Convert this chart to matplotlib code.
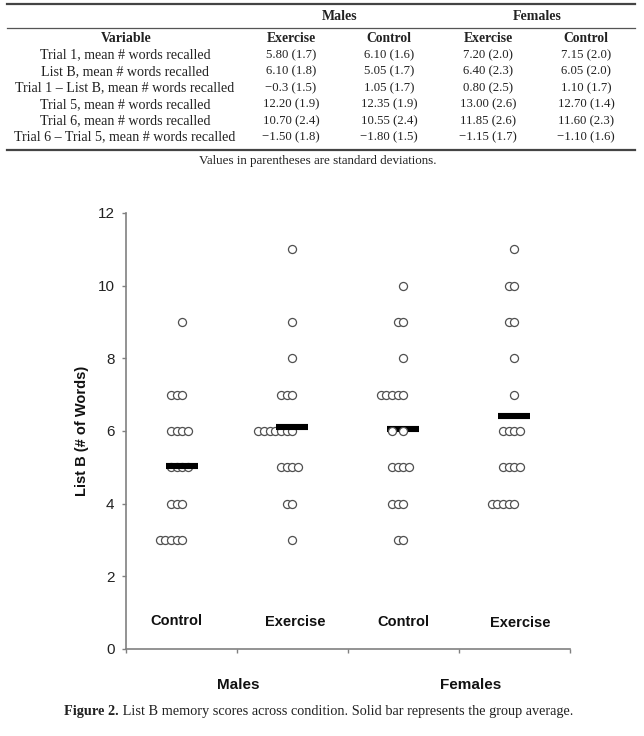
import numpy as np
import matplotlib.pyplot as plt
from matplotlib.lines import Line2D

# tabla de medias (sd)
row_labels = ["Trial 1, mean # words recalled",
              "List B, mean # words recalled",
              "Trial 1 \u2013 List B, mean # words recalled",
              "Trial 5, mean # words recalled",
              "Trial 6, mean # words recalled",
              "Trial 6 \u2013 Trial 5, mean # words recalled"]
col_groups = ["Males", "Females"]
col_labels = ["Exercise", "Control", "Exercise", "Control"]
male_ex = ["5.80 (1.7)", "6.10 (1.8)", "\u22120.3 (1.5)", "12.20 (1.9)", "10.70 (2.4)", "\u22121.50 (1.8)"]
male_ctl = ["6.10 (1.6)", "5.05 (1.7)", "1.05 (1.7)", "12.35 (1.9)", "10.55 (2.4)", "\u22121.80 (1.5)"]
fem_ex = ["7.20 (2.0)", "6.40 (2.3)", "0.80 (2.5)", "13.00 (2.6)", "11.85 (2.6)", "\u22121.15 (1.7)"]
fem_ctl = ["7.15 (2.0)", "6.05 (2.0)", "1.10 (1.7)", "12.70 (1.4)", "11.60 (2.3)", "\u22121.10 (1.6)"]
table_note = "Values in parentheses are standard deviations."

# datos de la figura: puntaje y cuantos sujetos
categories = ["Control", "Exercise", "Control", "Exercise"]
sexes = ["Males", "Females"]
mc_scores = [9, 7, 6, 5, 4, 3]
mc_counts = [1, 3, 4, 4, 3, 5]
me_scores = [11, 9, 8, 7, 6, 5, 4, 3]
me_counts = [1, 1, 1, 3, 7, 4, 2, 1]
fc_scores = [10, 9, 8, 7, 6, 5, 4, 3]
fc_counts = [1, 2, 1, 5, 2, 4, 3, 2]
fe_scores = [11, 10, 9, 8, 7, 6, 5, 4]
fe_counts = [1, 2, 2, 1, 1, 4, 4, 5]
group_means = [5.05, 6.10, 6.05, 6.40]

serif = ["Liberation Serif", "DejaVu Serif"]
sans = ["Liberation Sans", "DejaVu Sans"]

fig = plt.figure(figsize=(6.44, 7.36), dpi=100)

# ---- tabla (coordenadas en pixeles) ----
tab = fig.add_axes([0, 1 - 170 / 736, 1, 170 / 736])
tab.set_xlim(0, 644)
tab.set_ylim(170, 0)
tab.axis("off")
tc = "#222222"
tab.add_line(Line2D([7, 635], [4, 4], lw=1.6, color="#444444"))
tab.add_line(Line2D([7, 635], [27.5, 27.5], lw=0.9, color="#555555"))
tab.add_line(Line2D([7, 635], [150, 150], lw=1.6, color="#444444"))
col_x = [291, 389, 488, 586]
tab.text(340, 16, col_groups[0], ha="center", va="center", fontsize=10, weight="bold", family=serif, color=tc)
tab.text(537, 16, col_groups[1], ha="center", va="center", fontsize=10, weight="bold", family=serif, color=tc)
tab.text(126, 39, "Variable", ha="center", va="center", fontsize=10, weight="bold", family=serif, color=tc)
for x, lab in zip(col_x, col_labels):
    tab.text(x, 39, lab, ha="center", va="center", fontsize=9.8, weight="bold", family=serif, color=tc)
row_y = [55, 71.5, 88, 104.5, 121, 137]
for i, lab in enumerate(row_labels):
    tab.text(125, row_y[i], lab, ha="center", va="center", fontsize=10.1, family=serif, color=tc)
    for x, col in zip(col_x, [male_ex, male_ctl, fem_ex, fem_ctl]):
        tab.text(x, row_y[i], col[i], ha="center", va="center", fontsize=9.2, family=serif, color=tc)
tab.text(318, 161, table_note, ha="center", va="center", fontsize=9.4, family=serif, color=tc)

# ---- grafica ----
ax = fig.add_axes([125.5 / 644, 87 / 736, 444.5 / 644, 436 / 736])
gray = "#808080"
base_x = [0.51, 1.50, 2.50, 3.50]
step = 0.051
on_top = [False, False, True, False]
all_scores = [mc_scores, me_scores, fc_scores, fe_scores]
all_counts = [mc_counts, me_counts, fc_counts, fe_counts]
for g in range(4):
    for s, n in zip(all_scores[g], all_counts[g]):
        offs = np.arange(-(n - 1), 1)
        if n == 4:
            offs = offs + 1
        if on_top[g] and s == round(group_means[g]):
            offs = np.array([-2, 0])[:n]
        z = 5 if (on_top[g] and s == round(group_means[g])) else 3
        ax.plot(base_x[g] + offs * step, [s] * n, "o", ms=5.8, mfc="white",
                mec="#505050", mew=0.9, zorder=z, clip_on=False)
    ax.hlines(group_means[g], base_x[g] - 0.144, base_x[g] + 0.144,
              color="black", lw=4.4, zorder=4)

cat_x = [0.46, 1.53, 2.50, 3.55]
cat_y = [0.78, 0.73, 0.74, 0.72]
for x, y, lab in zip(cat_x, cat_y, categories):
    ax.text(x, y, lab, ha="center", va="center", fontsize=10.5, weight="bold",
            family=sans, color="#111111")

ax.set_xlim(0, 4)
ax.set_ylim(0, 12)
ax.set_yticks(range(0, 13, 2))
ax.set_xticks([0, 1, 2, 3, 4])
ax.set_xticklabels([])
for sp in ["top", "right"]:
    ax.spines[sp].set_visible(False)
for sp in ["left", "bottom"]:
    ax.spines[sp].set_color(gray)
    ax.spines[sp].set_linewidth(1.2)
ax.tick_params(axis="y", direction="out", length=3, width=1, color=gray, pad=5,
               labelsize=11, labelcolor="#222222")
ax.tick_params(axis="x", direction="out", length=3, width=1, color=gray)
for t in ax.get_yticklabels():
    t.set_family(sans)
ax.set_ylabel("List B (# of Words)", fontsize=10.5, weight="bold", family=sans, color="#111111")
ax.yaxis.set_label_coords(-0.082, 0.5)

# sexo debajo del eje
fig.text(238 / 644, 1 - 685 / 736, sexes[0], ha="center", va="center", fontsize=11,
         weight="bold", family=sans, color="#111111")
fig.text(471 / 644, 1 - 685 / 736, sexes[1], ha="center", va="center", fontsize=11,
         weight="bold", family=sans, color="#111111")

# pie de figura
t1 = fig.text(64 / 644, 1 - 712 / 736, "Figure 2.", ha="left", va="center", fontsize=10.3,
              weight="bold", family=serif, color=tc)
ax.annotate(" List B memory scores across condition. Solid bar represents the group average.",
            xy=(1, 0.5), xycoords=t1, ha="left", va="center", fontsize=10.3,
            family=serif, color=tc, annotation_clip=False)

fig.savefig("out.png", dpi=100)
